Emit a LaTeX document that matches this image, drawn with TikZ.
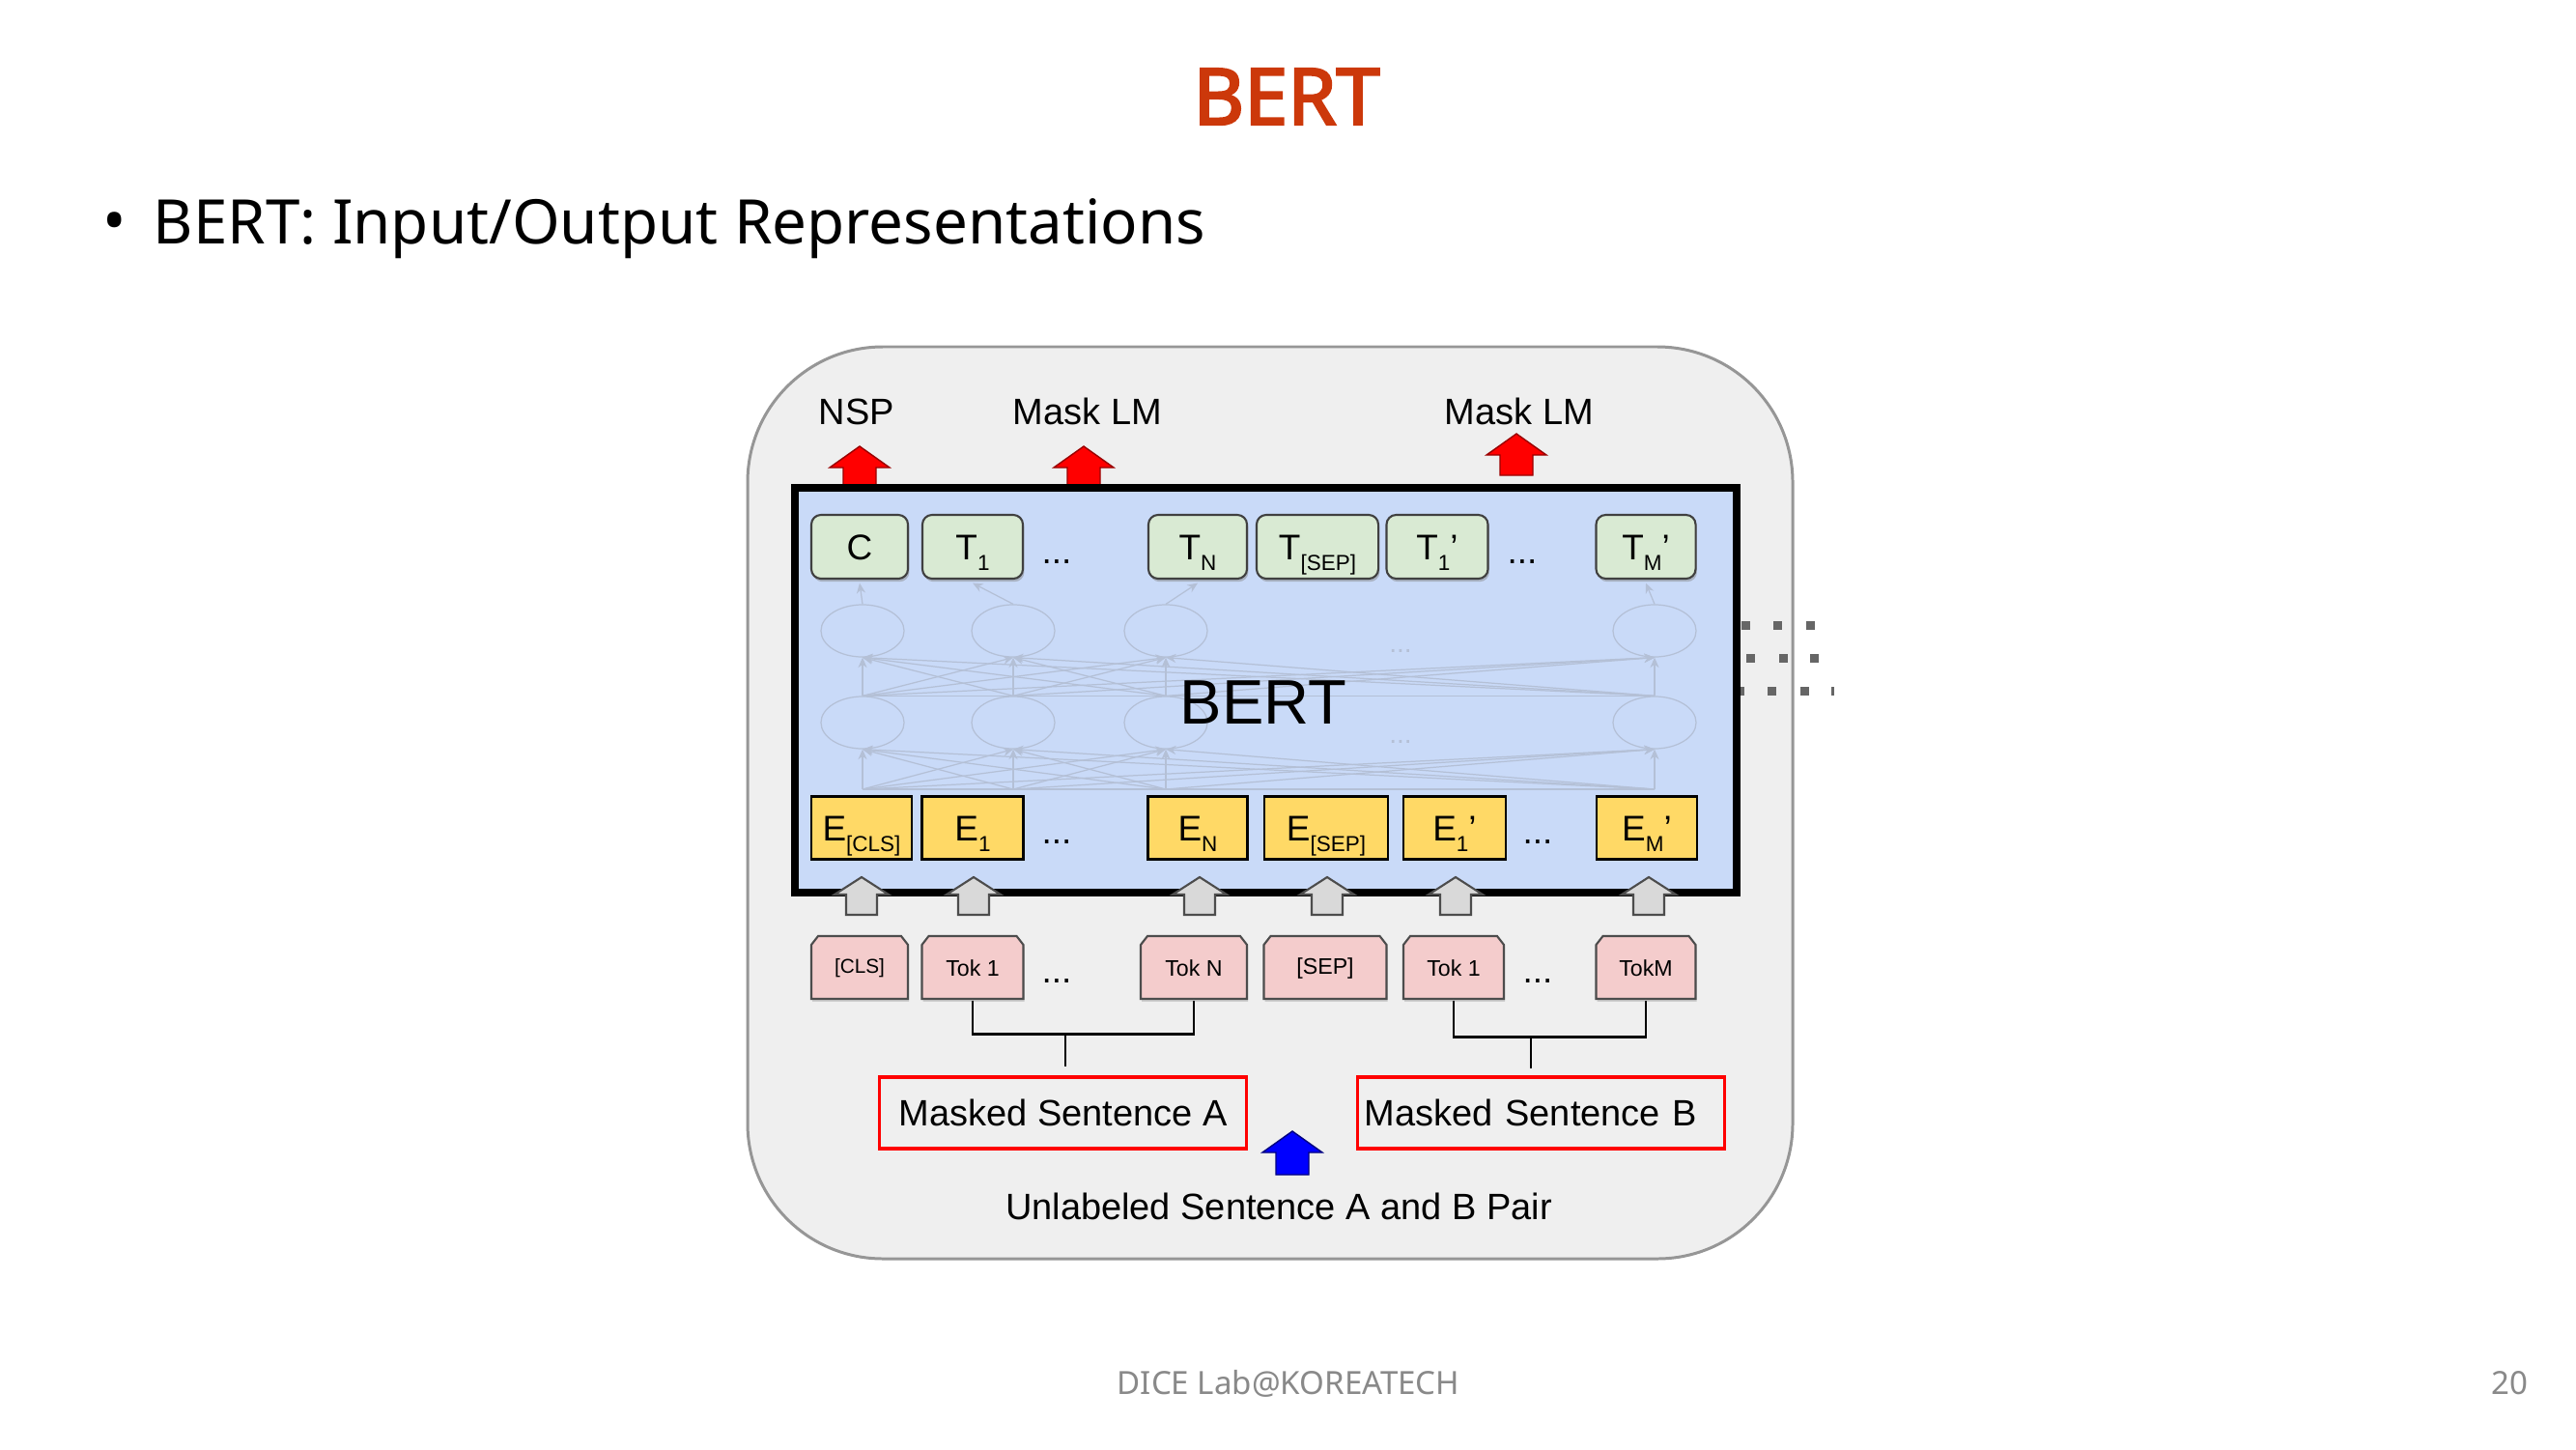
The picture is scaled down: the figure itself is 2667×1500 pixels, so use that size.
\documentclass[tikz,border=0pt]{standalone}
\usepackage{fontspec}
\setmainfont{Noto Sans}
\newfontfamily\titlefont{Noto Sans}[FakeBold=3]
\newfontfamily\arial{Liberation Sans}
\usetikzlibrary{shadows,shapes.geometric,arrows.meta}
\definecolor{titlec}{RGB}{204,56,10}
\definecolor{outerf}{RGB}{239,239,239}
\definecolor{outerd}{RGB}{150,150,150}
\definecolor{bluef}{RGB}{201,218,248}
\definecolor{greenf}{RGB}{217,234,211}
\definecolor{yellowf}{RGB}{255,217,102}
\definecolor{pinkf}{RGB}{244,204,204}
\definecolor{netc}{RGB}{180,192,214}
\definecolor{footc}{RGB}{137,137,137}
\definecolor{dotc}{RGB}{102,102,102}
\definecolor{grayarr}{RGB}{217,217,217}
\newcommand\fs[1]{\fontsize{#1}{#1}\selectfont}
\newcommand\sub[1]{\raisebox{-3.4pt}{\fs{6.4}#1}}
\newcommand\blockup[7]{\draw[#1] (#2,#3) -- (#2+#6,#4) -- (#2+#7,#4) -- (#2+#7,#5) -- (#2-#7,#5) -- (#2-#7,#4) -- (#2-#6,#4) -- cycle;}
\newcommand\tokbox[4]{%
  \draw[tokshape] (#2-#3/2,1034) -- (#2-#3/2,978) -- (#2-#3/2+7,969) -- (#2+#3/2-7,969) -- (#2+#3/2,978) -- (#2+#3/2,1034) -- cycle;
  \node[toklab, minimum width=#3*0.01cm] (#1) at (#2,1002.5) {#4};}
\begin{document}
\begin{tikzpicture}[x=0.01cm,y=-0.01cm,
  tbox/.style={draw=black!75, fill=greenf, rounded corners=0.1cm, line width=0.6pt, minimum height=0.66cm, inner sep=0pt, font=\arial\fs{10.5}, text height=7.4pt, text depth=0pt, drop shadow={shadow xshift=0.4pt, shadow yshift=-0.9pt, opacity=0.45}},
  ebox/.style={draw=black, fill=yellowf, line width=0.6pt, minimum height=0.65cm, inner sep=0pt, font=\arial\fs{10.5}, text height=7.4pt, text depth=0pt},
  toklab/.style={font=\arial\fs{6.6}, inner sep=0pt, minimum height=0.65cm},
  tokshape/.style={draw=black!70, fill=pinkf, line width=0.6pt, drop shadow={shadow xshift=0.3pt, shadow yshift=-0.8pt, opacity=0.3}},
  dotsl/.style={font=\arial\fs{10.5}, inner sep=0pt},
  lab/.style={font=\arial\fs{10.8}, inner sep=0pt},
  redbox/.style={draw=red, line width=0.9pt, minimum height=0.74cm, minimum width=3.79cm, font=\arial\fs{10.8}, inner sep=0pt},
  net/.style={draw=netc, line width=0.35pt},
  netarrow/.style={net, -{Stealth[length=3pt,width=2.6pt]}},
  cell/.style={net, ellipse, minimum width=0.86cm, minimum height=0.54cm, inner sep=0pt},
  bracket/.style={draw=black, line width=0.75pt},
  redarr/.style={fill=red, draw=red!60!black, line width=0.4pt},
  grayarrow/.style={fill=grayarr, draw=black!70, line width=0.6pt},
  bluearr/.style={fill=blue, draw=blue!50!black, line width=0.4pt}
]
\useasboundingbox (0,0) rectangle (2667,1500);
\fill[white] (0,0) rectangle (2667,1500);

% title, bullet, footer
\node[font=\titlefont\fs{23}, text=titlec, inner sep=0pt] (title) at (1332,100) {BERT};
\node[font=\fs{18.5}, inner sep=0pt] (bul) at (119,236) {•};
\node[font=\fs{18.1}, inner sep=0pt, anchor=base west] (sub) at (158,252) {BERT: Input/Output Representations};
\node[font=\fs{9.4}, text=footc, inner sep=0pt, anchor=base] (foot) at (1334,1443) {DICE Lab@KOREATECH};
\node[font=\fs{9.4}, text=footc, inner sep=0pt, anchor=base] (pg) at (2598,1443) {20};

% outer panel
\draw[draw=outerd, fill=outerf, line width=0.85pt, rounded corners=1.4cm] (774,359) rectangle (1856,1303);

% right-side dotted marks
\foreach \x in {1807,1840,1874} {\fill[dotc] (\x-4.5,642.5) rectangle (\x+4.5,651.5);}
\foreach \x in {1812,1846,1878} {\fill[dotc] (\x-4.5,676.5) rectangle (\x+4.5,685.5);}
\foreach \x in {1801,1834,1868} {\fill[dotc] (\x-4.5,710.5) rectangle (\x+4.5,719.5);}
\fill[dotc] (1896,710.5) rectangle (1898.5,719.5);

% red output arrows
\blockup{redarr}{890}{462}{484}{505}{31}{17}
\blockup{redarr}{1122}{462}{484}{505}{31}{17}
\blockup{redarr}{1570}{449}{471}{492}{31}{17}
\node[lab] (nsp) at (887,426) {NSP};
\node[lab] (mlm1) at (1126,426) {Mask LM};
\node[lab] (mlm2) at (1573,426) {Mask LM};

% BERT box
\node[draw=black, line width=2.3pt, fill=bluef, minimum width=9.75cm, minimum height=4.19cm, inner sep=0pt] (bertbox) at (1310.5,714.5) {};

% T boxes
\node[tbox, minimum width=1.00cm] (tC) at (890,566) {C};
\node[tbox, minimum width=1.04cm] (t1) at (1007,566) {T\sub{1}};
\node[tbox, minimum width=1.02cm] (tN) at (1240,566) {T\sub{N}};
\node[tbox, minimum width=1.26cm] (tSEP) at (1364,566) {T\sub{[SEP]}};
\node[tbox, minimum width=1.05cm] (t1b) at (1488,566) {T\sub{1}’};
\node[tbox, minimum width=1.03cm] (tM) at (1704,566) {T\sub{M}’};
\node[dotsl] (td1) at (1094,582) {...};
\node[dotsl] (td2) at (1576,582) {...};

% network
\foreach \i/\x in {1/893,2/1049,3/1207,4/1713} {
  \node[cell] (ca\i) at (\x,653) {};
  \node[cell] (cb\i) at (\x,748) {};
  \coordinate (bb\i) at (\x,817);
}
\foreach \i/\t in {1/tC,2/t1,3/tN,4/tM} {\draw[netarrow] (ca\i.north) -- ([yshift=-1pt]\t.south);}
\foreach \i in {1,2,3,4} {
  \foreach \j in {1,2,3,4} {
    \draw[netarrow] (cb\i.north) -- (ca\j.south);
    \draw[netarrow] (bb\i) -- (cb\j.south);
  }
}
\draw[net] (cb1.north) -- (cb4.north);
\draw[net] (bb1) -- (bb4);
\node[font=\arial\fs{8}, text=netc, inner sep=0pt] (nd1) at (1450,674) {...};
\node[font=\arial\fs{8}, text=netc, inner sep=0pt] (nd2) at (1450,768) {...};
\node[font=\arial\fs{18.5}, inner sep=0pt] (bertlabel) at (1308,727) {BERT};

% E boxes
\node[ebox, minimum width=1.04cm] (eCLS) at (892,857) {E\sub{[CLS]}};
\node[ebox, minimum width=1.05cm] (e1) at (1007,857) {E\sub{1}};
\node[ebox, minimum width=1.03cm] (eN) at (1240,857) {E\sub{N}};
\node[ebox, minimum width=1.28cm] (eSEP) at (1373,857) {E\sub{[SEP]}};
\node[ebox, minimum width=1.06cm] (e1b) at (1506,857) {E\sub{1}’};
\node[ebox, minimum width=1.04cm] (eM) at (1705,857) {E\sub{M}’};
\node[dotsl] (ed1) at (1094,872) {...};
\node[dotsl] (ed2) at (1592,872) {...};

% gray input arrows
\foreach \x in {892,1008,1242,1374,1507,1707} {\blockup{grayarrow}{\x}{908}{926}{947}{28}{16}}

% token boxes
\tokbox{tCLS}{890}{100}{\fs{5.9}[CLS]}
\tokbox{tok1}{1007}{105}{Tok 1}
\tokbox{tokN}{1236}{110}{Tok N}
\tokbox{tSEP}{1372}{127}{[SEP]}
\tokbox{tok1b}{1505}{104}{Tok 1}
\tokbox{tokM}{1704}{103}{TokM}
\node[dotsl] (kd1) at (1094,1016) {...};
\node[dotsl] (kd2) at (1592,1016) {...};

% sentence boxes
\node[redbox] (mA) at (1100.5,1152) {Masked Sentence A};
\node[redbox, text width=3.65cm, inner xsep=0.07cm, align=left] (mB) at (1595.5,1152) {Masked Sentence B};

% brackets
\draw[bracket] (tok1.south) -- ++(0,35) -| (tokN.south);
\coordinate (jA) at (1103,1069);
\draw[bracket, shorten >=2.6pt] (jA) -- (jA |- mA.north);
\draw[bracket] (tok1b.south) -- ++(0,38) -| (tokM.south);
\coordinate (jB) at (1585,1072);
\draw[bracket, shorten >=2pt] (jB) -- (jB |- mB.north);

% blue input arrow and caption
\blockup{bluearr}{1338}{1171}{1193}{1216}{31}{17}
\node[font=\arial\fs{10.8}, inner sep=0pt] (cap) at (1324,1249) {Unlabeled Sentence A and B Pair};
\end{tikzpicture}
\end{document}
